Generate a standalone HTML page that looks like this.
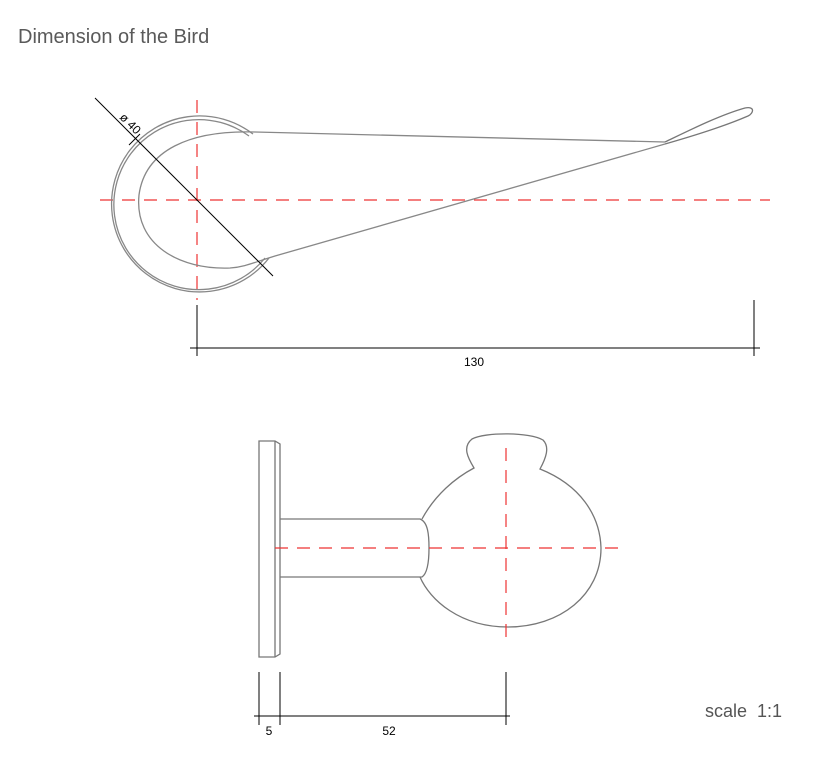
<!DOCTYPE html>
<html><head><meta charset="utf-8"><style>
html,body{margin:0;padding:0;background:#fff;width:818px;height:758px;overflow:hidden}
svg{display:block}
</style></head><body>
<svg width="818" height="758" viewBox="0 0 818 758" xmlns="http://www.w3.org/2000/svg">
<text x="18" y="43" font-family="Liberation Sans, sans-serif" font-size="20" fill="#5a5a5a">Dimension of the Bird</text>
<g stroke="#e33" stroke-width="1.2" stroke-dasharray="13,9" fill="none">
<line x1="100" y1="200" x2="770" y2="200"/>
<line x1="197" y1="100" x2="197" y2="300"/>
</g>
<g fill="none" stroke="#888" stroke-width="1.3">
<path d="M256,134 A88,88 0 1 0 272,258" transform="translate(-3,0)"/>
<path d="M252,136 A85,85 0 1 0 268,258" transform="translate(-3,0)"/>
<path d="M665,142 L255,132 C190,130 145,150 139,195 C134,245 180,270 230,268 C245,267 255,262 275,256 L665,144"/>
<path d="M665,142 C690,130 720,115 745,108 C755,106 754,113 748,116 C725,126 700,134 665,144" stroke="#777"/>
</g>
<line x1="95" y1="98" x2="273" y2="276" stroke="#000" stroke-width="1"/>
<line x1="129" y1="145" x2="140" y2="134" stroke="#000" stroke-width="1"/>
<text x="0" y="0" transform="translate(119,118) rotate(45)" font-family="Liberation Sans, sans-serif" font-size="12" fill="#000">ø 40</text>
<g stroke="#000" stroke-width="1">
<line x1="197" y1="305" x2="197" y2="356"/>
<line x1="754" y1="300" x2="754" y2="356"/>
<line x1="190" y1="348" x2="760" y2="348"/>
</g>
<text x="474" y="366" text-anchor="middle" font-family="Liberation Sans, sans-serif" font-size="12">130</text>
<g fill="none" stroke="#777" stroke-width="1.3">
<path d="M259,441 L275,441 L280,444 L280,654 L275,657 L259,657 Z"/>
<line x1="275" y1="441" x2="275" y2="657"/>
<path d="M280,519 L420,519 C428,522 429,535 429,548 C429,560 428,573 422,577 L280,577"/>
<path d="M422,519 C435,495 455,478 474,468 C468,458 462,447 472,439 C485,432 530,432 543,440 C550,447 546,458 540,469 C580,485 600,515 601,548 C601,595 560,627 508,627 C460,627 430,600 420,577"/>
</g>
<g stroke="#e33" stroke-width="1.2" stroke-dasharray="13,9" fill="none">
<line x1="275" y1="548" x2="620" y2="548"/>
<line x1="506" y1="448" x2="506" y2="645"/>
</g>
<g stroke="#000" stroke-width="1">
<line x1="259" y1="672" x2="259" y2="725"/>
<line x1="280" y1="672" x2="280" y2="725"/>
<line x1="506" y1="672" x2="506" y2="725"/>
<line x1="254" y1="716" x2="510" y2="716"/>
</g>
<text x="269" y="735" text-anchor="middle" font-family="Liberation Sans, sans-serif" font-size="12">5</text>
<text x="389" y="735" text-anchor="middle" font-family="Liberation Sans, sans-serif" font-size="12">52</text>
<text x="705" y="717" font-family="Liberation Sans, sans-serif" font-size="18" fill="#555">scale&#160;&#160;1:1</text>
</svg>
</body></html>
